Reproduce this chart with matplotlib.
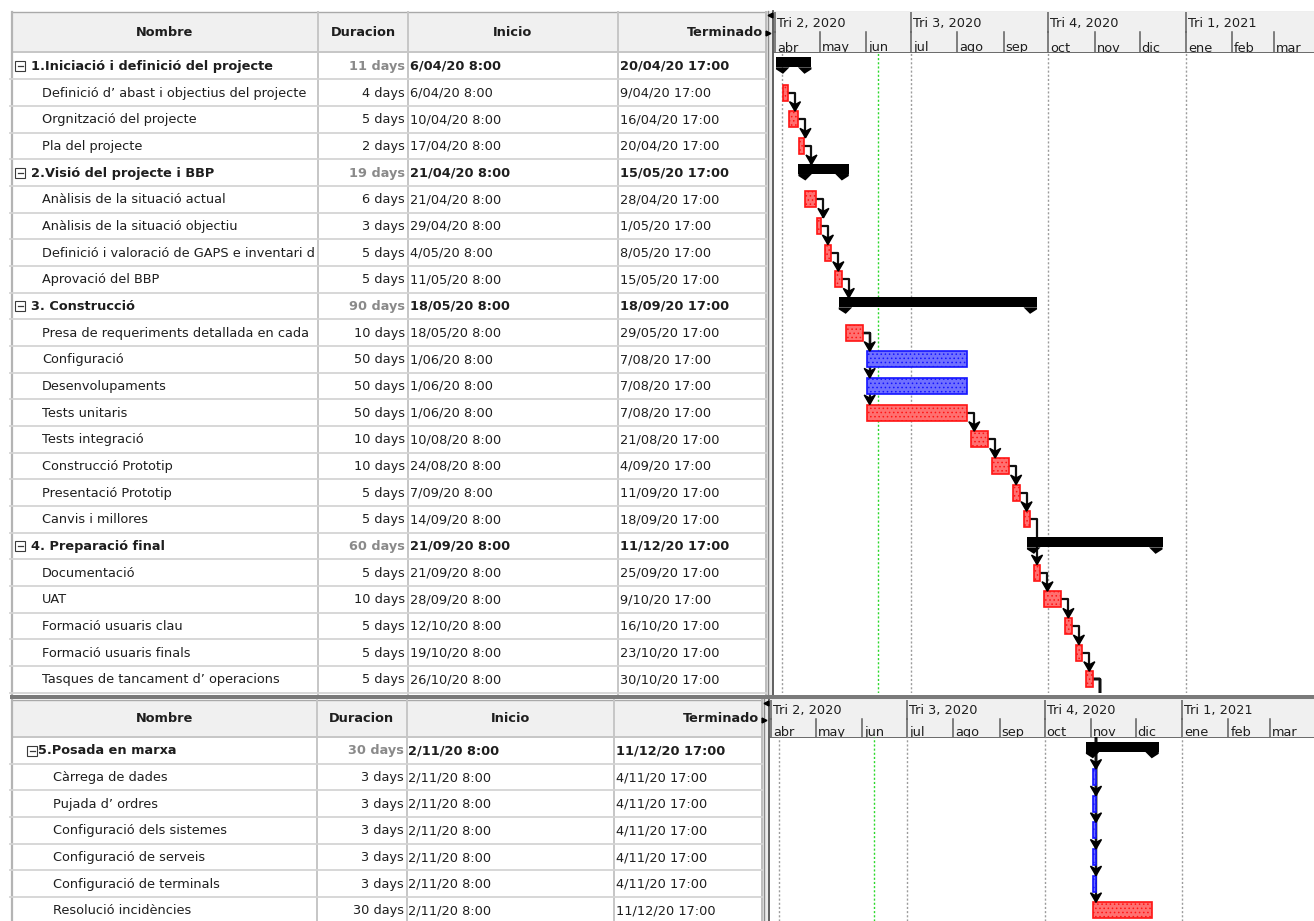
import datetime as dt

import matplotlib
matplotlib.use("Agg")
import matplotlib.pyplot as plt
import matplotlib.dates as mdates
from matplotlib.patches import Rectangle, Polygon

# ------------------------------------------------------------------ schedule
names = [
    "1.Iniciació i definició del projecte",
    "Definició d’ abast i objectius del projecte",
    "Orgnització del projecte",
    "Pla del projecte",
    "2.Visió del projecte i BBP",
    "Anàlisis de la situació actual",
    "Anàlisis de la situació objectiu",
    "Definició i valoració de GAPS e inventari d",
    "Aprovació del BBP",
    "3. Construcció",
    "Presa de requeriments detallada en cada",
    "Configuració",
    "Desenvolupaments",
    "Tests unitaris",
    "Tests integració",
    "Construcció Prototip",
    "Presentació Prototip",
    "Canvis i millores",
    "4. Preparació final",
    "Documentació",
    "UAT",
    "Formació usuaris clau",
    "Formació usuaris finals",
    "Tasques de tancament d’ operacions",
    "5.Posada en marxa",
    "Càrrega de dades",
    "Pujada d’ ordres",
    "Configuració dels sistemes",
    "Configuració de serveis",
    "Configuració de terminals",
    "Resolució incidències",
]
duration_days = [11, 4, 5, 2, 19, 6, 3, 5, 5, 90, 10, 50, 50, 50, 10, 10,
                 5, 5, 60, 5, 10, 5, 5, 5, 30, 3, 3, 3, 3, 3, 30]
starts = [
    "6/04/20 8:00", "6/04/20 8:00", "10/04/20 8:00", "17/04/20 8:00",
    "21/04/20 8:00", "21/04/20 8:00", "29/04/20 8:00", "4/05/20 8:00",
    "11/05/20 8:00", "18/05/20 8:00", "18/05/20 8:00", "1/06/20 8:00",
    "1/06/20 8:00", "1/06/20 8:00", "10/08/20 8:00", "24/08/20 8:00",
    "7/09/20 8:00", "14/09/20 8:00", "21/09/20 8:00", "21/09/20 8:00",
    "28/09/20 8:00", "12/10/20 8:00", "19/10/20 8:00", "26/10/20 8:00",
    "2/11/20 8:00", "2/11/20 8:00", "2/11/20 8:00", "2/11/20 8:00",
    "2/11/20 8:00", "2/11/20 8:00", "2/11/20 8:00",
]
finishes = [
    "20/04/20 17:00", "9/04/20 17:00", "16/04/20 17:00", "20/04/20 17:00",
    "15/05/20 17:00", "28/04/20 17:00", "1/05/20 17:00", "8/05/20 17:00",
    "15/05/20 17:00", "18/09/20 17:00", "29/05/20 17:00", "7/08/20 17:00",
    "7/08/20 17:00", "7/08/20 17:00", "21/08/20 17:00", "4/09/20 17:00",
    "11/09/20 17:00", "18/09/20 17:00", "11/12/20 17:00", "25/09/20 17:00",
    "9/10/20 17:00", "16/10/20 17:00", "23/10/20 17:00", "30/10/20 17:00",
    "11/12/20 17:00", "4/11/20 17:00", "4/11/20 17:00", "4/11/20 17:00",
    "4/11/20 17:00", "4/11/20 17:00", "11/12/20 17:00",
]
# S = summary, C = critical task, N = task with slack
kinds = "SCCCSCCCCSCNNCCCCCSCCCCCSNNNNNC"
# finish-to-start dependencies (predecessor, successor)
links = [(1, 2), (2, 3), (3, 4), (5, 6), (6, 7), (7, 8), (8, 9),
         (10, 11), (10, 12), (10, 13), (13, 14), (14, 15), (15, 16),
         (16, 17), (17, 19), (19, 20), (20, 21), (21, 22), (22, 23),
         (23, 25), (23, 26), (23, 27), (23, 28), (23, 29), (23, 30)]

column_titles = ["Nombre", "Duracion", "Inicio", "Terminado"]
month_abbr = ["ene", "feb", "mar", "abr", "may", "jun",
              "jul", "ago", "sep", "oct", "nov", "dic"]
quarter_fmt = "Tri {q}, {y}"
timeline_start = "1/04/20"
timeline_months = 12
status_date = "9/06/20"

# ------------------------------------------------------------------ layout
W, H, DPI = 1314, 921, 100
ROW = 26.67          # row pitch, px
PPD = 1.494          # px per day on the timescale
FS = 9.3
TXT = "#1e1e1e"
GREY_TXT = "#8a8a8a"
GRID = "#d4d4d4"
HEAD_BG = "#f0f0f0"
HEAD_LINE = "#c6c6c6"
SCALE_LINE = "#5e5e5e"

panes = [
    dict(rows=list(range(0, 24)), cols=[12, 318, 408, 618, 766],
         head=(12.5, 32.5, 52.5), body_bottom=692.5, gx=774, apr1=775.0,
         box=15, sx=31, tx=42),
    dict(rows=list(range(24, 31)), cols=[12, 316.5, 407, 614, 762],
         head=(699.5, 719.0, 737.0), body_bottom=921.0, gx=770, apr1=771.2,
         box=27, sx=38, tx=53),
]

plt.rcParams["font.family"] = ["DejaVu Sans"]
plt.rcParams["hatch.linewidth"] = 0.6


def when(s):
    return mdates.date2num(dt.datetime.strptime(s, "%d/%m/%y %H:%M"))


def day(s):
    return dt.datetime.strptime(s, "%d/%m/%y")


S = [when(s) for s in starts]
F = [when(f) for f in finishes]

fig = plt.figure(figsize=(W / DPI, H / DPI), dpi=DPI, facecolor="white")
bg = fig.add_axes([0, 0, 1, 1])
bg.set_xlim(0, W)
bg.set_ylim(H, 0)
bg.set_axis_off()


def px_axes(x0, y0, x1, y1):
    a = fig.add_axes([x0 / W, 1 - y1 / H, (x1 - x0) / W, (y1 - y0) / H])
    a.set_axis_off()
    return a


def pane_of(i):
    return 0 if i < 24 else 1


# ------------------------------------------------------------------ table
for p in panes:
    c = p["cols"]
    h0, hm, h1 = p["head"]
    yb = p["body_bottom"]
    rows = p["rows"]
    grid_end = min(yb + 2.5, H)

    bg.add_patch(Rectangle((c[0], h0), c[-1] - c[0], h1 - h0,
                           facecolor=HEAD_BG, edgecolor="none", zorder=1))
    bg.plot([c[0], c[-1]], [h0, h0], color="#a9a9a9", lw=1.0, zorder=2)
    bg.plot([c[0], c[-1]], [h1, h1], color=HEAD_LINE, lw=1.4, zorder=2)
    for x in c[1:]:
        bg.plot([x, x], [h0, grid_end], color=HEAD_LINE if x != c[-1] else "#bdbdbd",
                lw=1.4, zorder=2)
    bg.plot([c[0], c[0]], [h0, grid_end], color="#b4b4b4", lw=1.6, zorder=2)

    for k in range(3):
        bg.text((c[k] + c[k + 1]) / 2, (h0 + h1) / 2 + 0.5, column_titles[k],
                ha="center", va="center", fontsize=FS, fontweight="bold", color=TXT)
    bg.text(c[4] - 3, (h0 + h1) / 2 + 0.5, column_titles[3], ha="right",
            va="center", fontsize=FS, fontweight="bold", color=TXT)

    k = 1
    while h1 + k * ROW <= grid_end:
        yy = h1 + k * ROW
        bg.plot([10, c[-1]], [yy, yy], color=GRID, lw=1.3, zorder=2)
        k += 1

    for i in rows:
        r = i - rows[0]
        yc = h1 + (r + 0.5) * ROW + 0.5
        summ = kinds[i] == "S"
        wt = "bold" if summ else "normal"
        if summ:
            bx = p["box"]
            bg.add_patch(Rectangle((bx, yc - 5), 10, 10, facecolor="white",
                                   edgecolor="#3a3a3a", lw=0.8, zorder=3))
            bg.plot([bx + 2.5, bx + 7.5], [yc, yc], color="#3a3a3a", lw=0.9, zorder=4)
            xn = p["sx"]
        else:
            xn = p["tx"]
        bg.text(xn, yc, names[i], ha="left", va="center", fontsize=FS,
                fontweight=wt, color=TXT)
        bg.text(c[2] - 3, yc, f"{duration_days[i]} days", ha="right", va="center",
                fontsize=FS, fontweight=wt, color=GREY_TXT if summ else TXT)
        bg.text(c[2] + 1.5, yc, starts[i], ha="left", va="center", fontsize=FS,
                fontweight=wt, color=TXT)
        bg.text(c[3] + 1.5, yc, finishes[i], ha="left", va="center", fontsize=FS,
                fontweight=wt, color=TXT)

    # splitter between sheet and chart
    bg.add_patch(Rectangle((c[-1], h0 - 1), p["gx"] - c[-1], grid_end - h0 + 1,
                           facecolor="#ebebeb", edgecolor="none", zorder=1))
    bg.plot([c[-1] + 1.5, c[-1] + 1.5], [h0 - 1, grid_end], color="#8a8a8a", lw=1.0, zorder=2)
    bg.plot([p["gx"] - 1, p["gx"] - 1], [h0 - 1, grid_end], color="#555555", lw=1.3, zorder=2)
    bg.plot([c[-1] + 4], [h0 + 3], marker="<", ms=3.5, color="black", zorder=5)
    bg.plot([c[-1] + 2], [hm + 0.5], marker=">", ms=3.5, color="black", zorder=5)

# splitter between the two panes
bg.add_patch(Rectangle((10, 694.5), W - 10, 4.5, facecolor="#7a7a7a",
                       edgecolor="none", zorder=6))

# ------------------------------------------------------------------ chart
t0 = day(timeline_start)
month_starts = []
yy_, mm_ = t0.year, t0.month
for _ in range(timeline_months + 1):
    month_starts.append(dt.datetime(yy_, mm_, 1))
    mm_ += 1
    if mm_ > 12:
        mm_, yy_ = 1, yy_ + 1

bodies = []
for p in panes:
    h0, hm, h1 = p["head"]
    x0 = mdates.date2num(t0)
    left = x0 - (p["apr1"] - p["gx"]) / PPD
    right = x0 + (W - p["apr1"]) / PPD

    ah = px_axes(p["gx"], h0, W, h1)
    ah.set_xlim(left, right)
    ah.set_ylim(h1, h0)
    ah.add_patch(Rectangle((0, 0), 1, 1, transform=ah.transAxes,
                           facecolor=HEAD_BG, edgecolor="none", zorder=0))
    for d in month_starts:
        xm = mdates.date2num(d)
        if xm >= right:
            continue
        ah.plot([xm, xm], [hm, h1], color=SCALE_LINE, lw=1.1, zorder=2)
        ah.text(xm + 2 / PPD, h1 - 1.0, month_abbr[d.month - 1], ha="left",
                va="baseline", fontsize=FS, color=TXT, clip_on=True)
        if d.month in (1, 4, 7, 10):
            ah.plot([xm, xm], [h0, hm], color=SCALE_LINE, lw=1.1, zorder=2)
            ah.text(xm + 2 / PPD, (h0 + hm) / 2 + 1, quarter_fmt.format(
                q=(d.month - 1) // 3 + 1, y=d.year), ha="left", va="center",
                fontsize=FS, color=TXT, clip_on=True)
    bg.plot([p["gx"], W], [h0, h0], color="#a9a9a9", lw=1.0, zorder=7)
    bg.plot([p["gx"], W], [hm, hm], color=SCALE_LINE, lw=1.2, zorder=7)
    bg.plot([p["gx"], W], [h1, h1], color=SCALE_LINE, lw=1.3, zorder=7)

    nvis = (p["body_bottom"] - h1) / ROW
    ab = px_axes(p["gx"], h1, W, p["body_bottom"])
    ab.set_xlim(left, right)
    ab.set_ylim(nvis, 0)
    for d in month_starts[1:]:
        if d.month in (1, 4, 7, 10) and mdates.date2num(d) < right:
            ab.axvline(mdates.date2num(d), color="#9c9c9c", lw=1.0,
                       ls=(0, (1.5, 1.5)), zorder=1)
    ab.axvline(S[0] - 8 / 24, color="#9c9c9c", lw=1.0, ls=(0, (1.5, 1.5)), zorder=1)
    ab.axvline(mdates.date2num(day(status_date)), color="#2bd92b", lw=1.0,
               ls=(0, (1.5, 1.5)), zorder=1)
    bodies.append((ab, nvis))

dx = lambda px: px / PPD
dy = lambda px: px / ROW


def row_center(i):
    p = panes[pane_of(i)]
    return i - p["rows"][0] + 0.5


for i in range(len(names)):
    ab, _ = bodies[pane_of(i)]
    yc = row_center(i)
    if kinds[i] == "S":
        top, bot, tip = yc - dy(8.5), yc + dy(1.5), yc + dy(8)
        ab.barh((top + bot) / 2, F[i] - S[i] + dx(14), left=S[i] - dx(7),
                height=bot - top, color="black", edgecolor="none", zorder=5)
        ab.add_patch(Polygon([(S[i] - dx(7), bot), (S[i] - dx(7), bot + dy(2)),
                              (S[i], tip), (S[i] + dx(6.5), bot)],
                             closed=True, facecolor="black", edgecolor="none", zorder=5))
        ab.add_patch(Polygon([(F[i] + dx(7), bot), (F[i] + dx(7), bot + dy(2)),
                              (F[i], tip), (F[i] - dx(6.5), bot)],
                             closed=True, facecolor="black", edgecolor="none", zorder=5))
    else:
        if kinds[i] == "C":
            fc, ec = "#ff7070", "#ff1414"
        else:
            fc, ec = "#7070ff", "#1414ff"
        ab.barh(yc, F[i] - S[i], left=S[i], height=dy(16), facecolor=fc,
                edgecolor=ec, hatch="....", lw=1.2, zorder=4)


def arrow_head(ax, x, y_tip):
    ax.add_patch(Polygon([(x - dx(5.5), y_tip - dy(9.5)), (x, y_tip - dy(6.5)),
                          (x + dx(5.5), y_tip - dy(9.5)), (x, y_tip)],
                         closed=True, facecolor="black", edgecolor="black",
                         lw=1.0, zorder=6))


LINK_KW = dict(color="#111111", lw=1.6, zorder=3, solid_capstyle="butt")
for a, b in links:
    pa, pb = pane_of(a), pane_of(b)
    xv = F[a] + dx(7)
    ya = row_center(a)
    yt = row_center(b) - dy(8)
    ax_a, nvis_a = bodies[pa]
    ax_a.plot([F[a], xv, xv], [ya, ya, yt if pa == pb else nvis_a + 0.2], **LINK_KW)
    if pa == pb:
        arrow_head(ax_a, xv, yt)
    else:
        ax_b, _ = bodies[pb]
        ax_b.plot([xv, xv], [-0.2, yt], **LINK_KW)
        arrow_head(ax_b, xv, yt)

fig.savefig("out.png", dpi=DPI, facecolor="white")
